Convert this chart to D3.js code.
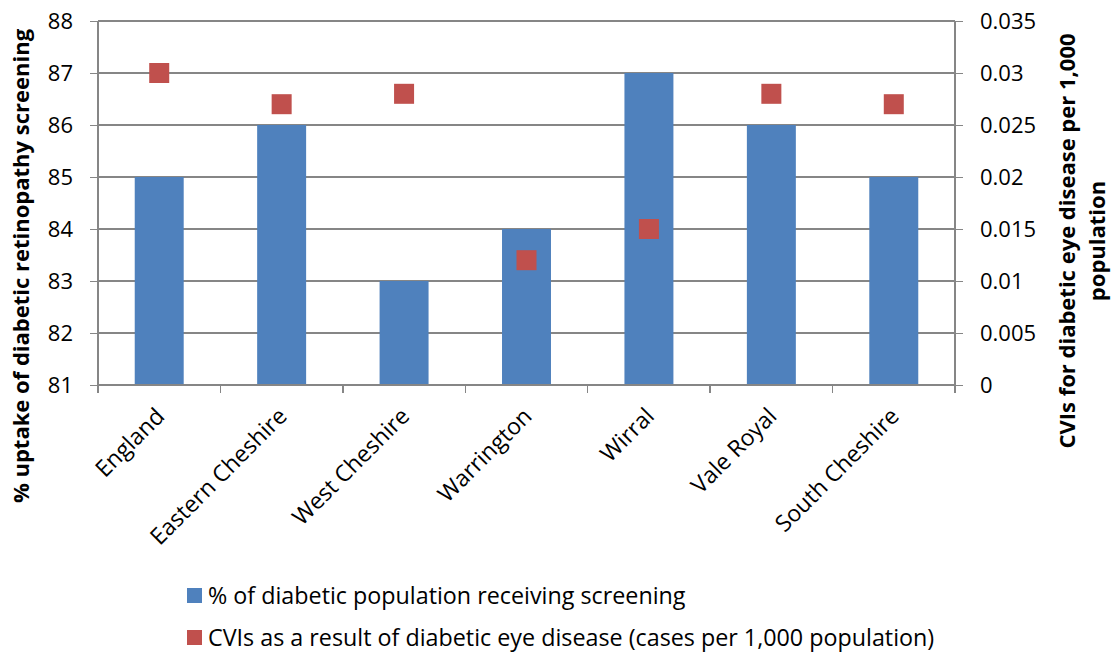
<!DOCTYPE html>
<html>
<head>
    <title>screening-cvi</title>
    <meta charset="utf-8">
    <script src="https://cdn.jsdelivr.net/npm/d3@7"></script>
    <style type="text/css">
        body { margin: 0; background: #fff; }
        text { font-family: "Open Sans", sans-serif; fill: #000; }
        .axis path, .axis line { fill: none; stroke: #868686; stroke-width: 1.3px; shape-rendering: crispEdges; }
        .grid line { stroke: #868686; stroke-width: 1.3px; shape-rendering: crispEdges; }
        .axis text { font-size: 22px; }
        .axis text.cat { font-size: 23px; }
        .title { font-size: 22px; font-weight: bold; }
        .legend text { font-size: 23.3px; }
    </style>
</head>
<body>
<script type="text/javascript">
    // data
    var areas = ['England', 'Eastern Cheshire', 'West Cheshire', 'Warrington', 'Wirral', 'Vale Royal', 'South Cheshire'];
    var uptake = [85, 86, 83, 84, 87, 86, 85];
    var cvis = [0.030, 0.027, 0.028, 0.012, 0.015, 0.028, 0.027];
    var leftTicks = [81, 82, 83, 84, 85, 86, 87, 88];
    var rightTicks = [0, 0.005, 0.01, 0.015, 0.02, 0.025, 0.03, 0.035];
    var seriesNames = ['% of diabetic population receiving screening',
                       'CVIs as a result of diabetic eye disease (cases per 1,000 population)'];

    var barColor = '#4F81BD';
    var markColor = '#C0504D';

    var svgWidth = 1115, svgHeight = 657;
    var margin = { top: 21, right: 160, bottom: 272, left: 98 };
    var width = svgWidth - margin.left - margin.right;
    var height = svgHeight - margin.top - margin.bottom;

    var xScale = d3.scaleBand().domain(areas).range([0, width]).paddingInner(0.6).paddingOuter(0.3);
    var xBand = d3.scaleBand().domain(areas).range([0, width]);
    var yLeft = d3.scaleLinear().domain([81, 88]).range([height, 0]);
    var yRight = d3.scaleLinear().domain([0, 0.035]).range([height, 0]);

    var svg = d3.select('body').append('svg').attr('width', svgWidth).attr('height', svgHeight);
    var focus = svg.append('g').attr('transform', 'translate(' + margin.left + ',' + margin.top + ')');

    // gridlines
    focus.append('g').attr('class', 'grid').selectAll('line')
        .data(leftTicks.slice(1)).enter().append('line')
        .attr('x1', 0).attr('x2', width)
        .attr('y1', function (d) { return yLeft(d); })
        .attr('y2', function (d) { return yLeft(d); });

    // bars
    focus.append('g').selectAll('rect')
        .data(areas).enter().append('rect')
        .attr('x', function (d) { return xScale(d); })
        .attr('y', function (d, i) { return yLeft(uptake[i]); })
        .attr('width', xScale.bandwidth())
        .attr('height', function (d, i) { return height - yLeft(uptake[i]); })
        .attr('fill', barColor);

    // axes
    var yAxisL = d3.axisLeft(yLeft).tickValues(leftTicks).tickSize(8).tickPadding(17).tickFormat(d3.format('d'));
    var yAxisR = d3.axisRight(yRight).tickValues(rightTicks).tickSize(8).tickPadding(17).tickFormat(function (d) { return d === 0 ? '0' : String(+d.toFixed(3)); });
    var xAxis = d3.axisBottom(xBand).tickSize(0).tickFormat('');

    focus.append('g').attr('class', 'axis').call(yAxisL).call(function (g) { g.select('.domain').attr('d', 'M0,0V' + height); });
    focus.append('g').attr('class', 'axis').attr('transform', 'translate(' + width + ',0)')
        .call(yAxisR).call(function (g) { g.select('.domain').attr('d', 'M0,0V' + height); });

    var xg = focus.append('g').attr('class', 'axis').attr('transform', 'translate(0,' + height + ')').call(xAxis);
    xg.select('.domain').attr('d', 'M0,0H' + width);
    // tick marks at band boundaries
    xg.selectAll('.sep').data(d3.range(areas.length + 1)).enter().append('line')
        .attr('x1', function (i) { return i * xBand.step(); })
        .attr('x2', function (i) { return i * xBand.step(); })
        .attr('y1', 0).attr('y2', 8);

    // category labels
    xg.selectAll('.cat').data(areas).enter().append('text')
        .attr('class', 'cat')
        .attr('text-anchor', 'end')
        .attr('transform', function (d) {
            return 'translate(' + (xBand(d) + xBand.bandwidth() / 2 + 1) + ',27) rotate(-45)';
        })
        .attr('dy', '0.35em')
        .text(function (d) { return d; });

    // markers
    var ms = 20;
    focus.append('g').selectAll('rect')
        .data(areas).enter().append('rect')
        .attr('x', function (d) { return xBand(d) + xBand.bandwidth() / 2 - ms / 2; })
        .attr('y', function (d, i) { return yRight(cvis[i]) - ms / 2; })
        .attr('width', ms).attr('height', ms)
        .attr('fill', markColor);

    // axis titles
    svg.append('text').attr('class', 'title')
        .attr('text-anchor', 'middle')
        .attr('transform', 'translate(29,266) rotate(-90)')
        .text('% uptake of diabetic retinopathy screening');

    var rt = svg.append('text').attr('class', 'title')
        .attr('text-anchor', 'middle')
        .attr('transform', 'translate(1075,241) rotate(-90)');
    rt.append('tspan').attr('x', 0).attr('dy', 0).text('CVIs for diabetic eye disease per 1,000');
    rt.append('tspan').attr('x', 0).attr('dy', 30).text('population');

    // legend
    var legend = svg.append('g').attr('class', 'legend');
    var lg = legend.selectAll('g').data(seriesNames).enter().append('g')
        .attr('transform', function (d, i) { return 'translate(187,' + (588 + i * 42) + ')'; });
    lg.append('rect').attr('width', 15).attr('height', 15)
        .attr('fill', function (d, i) { return i === 0 ? barColor : markColor; });
    lg.append('text').attr('x', 21).attr('y', 16).text(function (d) { return d; });
</script>
</body>
</html>
